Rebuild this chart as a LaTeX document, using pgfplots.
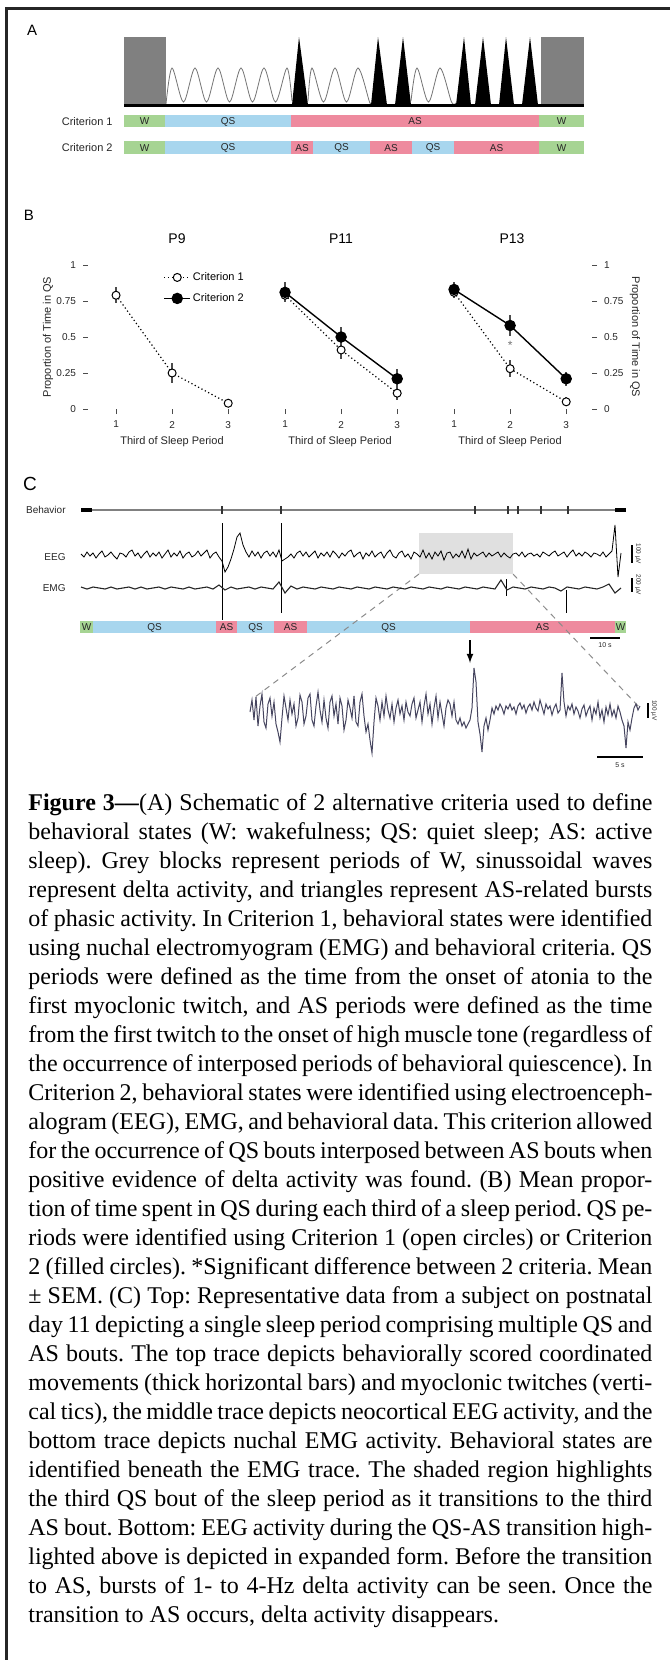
\documentclass[border=0pt]{standalone}
\usepackage{fontspec}
\setmainfont{Liberation Serif}
\setsansfont{Liberation Sans}
\usepackage{pgfplots}
\pgfplotsset{compat=1.18}
\definecolor{cW}{HTML}{A6D493}
\definecolor{cQ}{HTML}{A8D6EE}
\definecolor{cA}{HTML}{EE8A9E}
\definecolor{cG}{HTML}{808080}
\definecolor{cZ}{HTML}{46455F}
\newcommand\fs[1]{\fontsize{#1}{#1}\selectfont}
\tikzset{lab/.style={font=\sffamily\fs{5}, inner sep=0pt, text=black!85}}
\newcommand\seg[6]{%
 \addplot[fill=#5, draw=none] coordinates {(#1,#3) (#2,#3) (#2,#4) (#1,#4)} -- cycle;
 \node[lab] at (axis cs:{(#1+#2)/2},{(#3+#4)/2+0.5}) {#6};}
\newcommand\vl[3]{\addplot[black, line width=0.3pt] coordinates {(#1,#2) (#1,#3)};}
\newcommand\tic[2]{\addplot[black!80, line width=#2] coordinates {(#1,506) (#1,514)};}
\pgfplotsset{
 bax/.style={scale only axis, width=83pt, height=72pt, xmin=0.5, xmax=3.46, ymin=0, ymax=1,
  clip=false, axis x line*=bottom, axis line style={draw=none}, xtick={1,2,3},
  tick align=outside, major tick length=2.5pt, tick style={black!70, line width=0.4pt},
  tick label style={font=\sffamily\fs{5}, text=black!85},
  /pgf/number format/assume math mode=true,
  error bars/error bar style={line width=0.8pt, black!70, solid},
  error bars/error mark=none},
 c1/.style={black, line width=0.6pt, dash pattern=on 0.6pt off 1.3pt, mark=*, mark size=2pt, mark options={solid, fill=white, line width=0.5pt}},
 c2/.style={black, line width=0.7pt, solid, mark=*, mark size=2.5pt, mark options={solid, fill=black}},
 trace/.style={scale only axis, hide axis, clip=false}
}
\begin{document}
\begin{tikzpicture}
\useasboundingbox (0,0) rectangle (335pt,-830pt);
\draw[line width=1.3pt, black!85] (3.1pt,-830pt) -- (3.1pt,-4.1pt) -- (335pt,-4.1pt);

\begin{axis}[name=cv, at={(0pt,0pt)}, anchor=north west, scale only axis, width=335pt, height=830pt,
  xmin=0, xmax=670, ymin=0, ymax=1660, y dir=reverse, hide axis, clip=false]
% ---------- Panel A
\node[font=\sffamily\fs{7.5}, inner sep=0pt] at (axis cs:32,30) {A};
\addplot[fill=cG, draw=none] coordinates {(124,37) (166,37) (166,105) (124,105)} -- cycle;
\addplot[fill=cG, draw=none] coordinates {(541,37) (584,37) (584,105) (541,105)} -- cycle;
\addplot[black!55, line width=0.4pt, smooth] coordinates {(166,104) (172,68) (183.5,102) (195,68) (206.5,102) (218,68) (229.5,102) (241,68) (252.5,102) (264,68) (275.5,102) (287,68) (292,101)};
\addplot[black!55, line width=0.4pt, smooth] coordinates {(308,101) (312,68) (323.5,102) (335,68) (346.5,102) (358,68) (369.5,102) (371,103)};
\addplot[black!55, line width=0.4pt, smooth] coordinates {(411,101) (417,68) (428.5,102) (440,68) (451.5,102) (456,103)};
\addplot[fill=black, draw=none] coordinates {(292,105) (299,37) (308,105)} -- cycle;
\addplot[fill=black, draw=none] coordinates {(371,105) (378,37) (387,105)} -- cycle;
\addplot[fill=black, draw=none] coordinates {(395,105) (403,37) (411,105)} -- cycle;
\addplot[fill=black, draw=none] coordinates {(456,105) (464,37) (471,105)} -- cycle;
\addplot[fill=black, draw=none] coordinates {(475,105) (483,37) (491,105)} -- cycle;
\addplot[fill=black, draw=none] coordinates {(499,105) (506,37) (514,105)} -- cycle;
\addplot[fill=black, draw=none] coordinates {(522,105) (530,37) (538,105)} -- cycle;
\addplot[black, line width=1.5pt] coordinates {(124,105) (584,105)};
\node[lab, font=\sffamily\fs{5.5}, anchor=east] at (axis cs:113,121.5) {Criterion 1};
\node[lab, font=\sffamily\fs{5.5}, anchor=east] at (axis cs:113,148) {Criterion 2};
\seg{124}{165}{115}{127}{cW}{W}
\seg{165}{291}{115}{127}{cQ}{QS}
\seg{291}{539}{115}{127}{cA}{AS}
\seg{539}{584}{115}{127}{cW}{W}
\seg{124}{165}{141}{154}{cW}{W}
\seg{165}{291}{141}{154}{cQ}{QS}
\seg{291}{313}{141}{154}{cA}{AS}
\seg{313}{370}{141}{154}{cQ}{QS}
\seg{370}{412}{141}{154}{cA}{AS}
\seg{412}{454}{141}{154}{cQ}{QS}
\seg{454}{539}{141}{154}{cA}{AS}
\seg{539}{584}{141}{154}{cW}{W}
% ---------- Panel B texts
\node[font=\sffamily\fs{7.5}, inner sep=0pt] at (axis cs:29,215) {B};
\node[font=\sffamily\fs{7}, inner sep=0pt] at (axis cs:177,239) {P9};
\node[font=\sffamily\fs{7}, inner sep=0pt] at (axis cs:341,239) {P11};
\node[font=\sffamily\fs{7}, inner sep=0pt] at (axis cs:512,239) {P13};
\node[lab, font=\sffamily\fs{5.5}] at (axis cs:172,442) {Third of Sleep Period};
\node[lab, font=\sffamily\fs{5.5}] at (axis cs:340,442) {Third of Sleep Period};
\node[lab, font=\sffamily\fs{5.5}] at (axis cs:510,442) {Third of Sleep Period};
\node[lab, font=\sffamily\fs{5.5}, rotate=90] at (axis cs:48,337) {Proportion of Time in QS};
\node[lab, font=\sffamily\fs{5.5}, rotate=-90] at (axis cs:635,337) {Proportion of Time in QS};
% ---------- Panel C
\node[font=\sffamily\fs{9.5}, inner sep=0pt] at (axis cs:30,484) {C};
\node[lab, anchor=east] at (axis cs:66,510) {Behavior};
\node[lab, anchor=east] at (axis cs:66,557) {EEG};
\node[lab, anchor=east] at (axis cs:66,588) {EMG};
\addplot[black!50, line width=0.6pt] coordinates {(81,510) (626,510)};
\addplot[black, line width=2pt] coordinates {(81,510) (92,510)};
\addplot[black, line width=2pt] coordinates {(615,510) (626,510)};
\tic{222}{0.9pt}\tic{281}{0.9pt}\tic{475}{0.9pt}\tic{508}{0.9pt}\tic{518}{0.9pt}\tic{541}{0.6pt}\tic{568}{0.6pt}
\addplot[fill=black!12, draw=none] coordinates {(419,533) (513,533) (513,574) (419,574)} -- cycle;
\vl{222}{523}{620}\vl{281}{523}{613}\vl{566}{590}{613}\vl{506}{579}{596}
\seg{80}{93}{621}{633}{cW}{W}
\seg{93}{216}{621}{633}{cQ}{QS}
\seg{216}{237}{621}{633}{cA}{AS}
\seg{237}{274}{621}{633}{cQ}{QS}
\seg{274}{307}{621}{633}{cA}{AS}
\seg{307}{470}{621}{633}{cQ}{QS}
\seg{470}{615}{621}{633}{cA}{AS}
\seg{615}{626}{621}{633}{cW}{W}
\addplot[black, line width=0.7pt] coordinates {(632,545) (632,563)};
\node[lab, font=\sffamily\fs{3.2}, rotate=-90] at (axis cs:638,554) {100 µV};
\addplot[black, line width=0.7pt] coordinates {(632,578) (632,592)};
\node[lab, font=\sffamily\fs{3.2}, rotate=-90] at (axis cs:638,585) {200 µV};
\addplot[black, line width=0.8pt] coordinates {(590,638) (620,638)};
\node[lab, font=\sffamily\fs{3.5}] at (axis cs:605,645.5) {10 s};
\addplot[black!45, line width=0.5pt, dash pattern=on 3pt off 2.5pt] coordinates {(419,574) (255,697)};
\addplot[black!45, line width=0.5pt, dash pattern=on 3pt off 2.5pt] coordinates {(513,574) (640,708)};
\addplot[black, line width=0.6pt, -latex] coordinates {(470,640) (470,663)};
\addplot[black, line width=0.8pt] coordinates {(597,757) (643,757)};
\node[lab, font=\sffamily\fs{3.5}] at (axis cs:620,765) {5 s};
\addplot[black, line width=0.7pt] coordinates {(648,703) (648,718)};
\node[lab, font=\sffamily\fs{3.2}, rotate=-90] at (axis cs:654,710.5) {100 µV};
\end{axis}

% ---------- EEG main trace (y in px, up positive; x = sample index, 3 px apart)
\begin{axis}[trace, at={(40.5pt,-277.5pt)}, anchor=west, width=270pt, height=30pt, xmin=0, xmax=180, ymin=-30, ymax=30]
\addplot[black, line width=0.4pt] table[row sep=\\, header=false, x expr=\coordindex, y index=0] {
1\\-2\\3\\-1\\2\\-3\\1\\4\\-2\\0\\
3\\-1\\-4\\2\\1\\-2\\3\\5\\-1\\2\\
-3\\1\\4\\-2\\2\\-1\\3\\-3\\1\\5\\
-2\\2\\-1\\4\\-3\\1\\3\\-2\\0\\4\\
-1\\2\\5\\-3\\1\\3\\-2\\-6\\-17\\-12\\
-4\\6\\18\\22\\10\\3\\-2\\4\\-1\\3\\
-3\\2\\4\\-1\\3\\-2\\5\\-6\\-4\\-2\\
1\\-3\\2\\4\\-1\\3\\-2\\1\\4\\-3\\
2\\-1\\3\\-2\\4\\1\\-3\\2\\-1\\3\\
5\\-2\\1\\3\\-4\\2\\-1\\4\\-2\\1\\
3\\-3\\2\\5\\-1\\-3\\2\\4\\-2\\1\\
-4\\3\\1\\-2\\5\\-3\\2\\-4\\3\\-1\\
4\\-5\\2\\3\\-3\\1\\-2\\4\\-3\\6\\
-4\\2\\-1\\1\\3\\-2\\2\\-1\\1\\3\\
-2\\2\\-1\\-3\\1\\2\\-1\\3\\-2\\1\\
2\\-1\\1\\-2\\3\\1\\-1\\2\\4\\-1\\
1\\3\\-2\\2\\5\\-1\\2\\-1\\3\\1\\
-2\\2\\1\\-1\\3\\-2\\1\\4\\30\\-22\\
2\\
};
\end{axis}

% ---------- EMG trace (6 px apart)
\begin{axis}[trace, at={(40.5pt,-294pt)}, anchor=west, width=270pt, height=30pt, xmin=0, xmax=90, ymin=-30, ymax=30]
\addplot[black!85, line width=0.55pt] table[row sep=\\, header=false, x expr=\coordindex, y index=0] {
1\\-1\\1\\0\\-1\\1\\-1\\0\\1\\-1\\
1\\-1\\0\\1\\-1\\1\\0\\-1\\1\\-1\\
0\\1\\-1\\3\\-2\\1\\-1\\0\\1\\-1\\
1\\0\\-1\\6\\-5\\2\\-1\\1\\0\\-1\\
1\\0\\-1\\1\\0\\-1\\1\\0\\-1\\1\\
0\\-1\\1\\0\\-1\\1\\0\\-1\\1\\0\\
-1\\1\\0\\-1\\1\\0\\-1\\1\\0\\-1\\
8\\-2\\1\\0\\-1\\1\\0\\-1\\1\\0\\
-3\\1\\0\\-1\\1\\0\\-1\\1\\4\\-5\\
0\\
};
\end{axis}

% ---------- expanded EEG (2 px apart)
\begin{axis}[trace, at={(125pt,-356pt)}, anchor=west, width=195pt, height=50pt, xmin=0, xmax=195, ymin=-50, ymax=50]
\addplot[cZ, line width=0.5pt] table[row sep=\\, header=false, x expr=\coordindex, y index=0] {
0\\12\\-8\\15\\-14\\6\\18\\-10\\-16\\8\\
14\\-4\\10\\-12\\-20\\-30\\-6\\16\\4\\-8\\
12\\-2\\8\\-14\\-6\\17\\10\\-12\\-4\\14\\
18\\-8\\-14\\6\\20\\2\\-10\\12\\-6\\-16\\
10\\16\\-4\\8\\-12\\14\\6\\-18\\-8\\12\\
4\\-6\\16\\-10\\-14\\10\\18\\-4\\-20\\-12\\
-28\\-41\\-10\\14\\6\\-8\\10\\-4\\16\\2\\
-6\\8\\-10\\4\\12\\-2\\6\\-8\\10\\0\\
-4\\8\\14\\-6\\2\\10\\-10\\6\\18\\-2\\
8\\-12\\4\\16\\-6\\10\\-2\\-14\\4\\12\\
8\\-4\\10\\-8\\-12\\-6\\-14\\-10\\-16\\-12\\
-8\\4\\44\\30\\-10\\-22\\-40\\-14\\-6\\-18\\
-8\\4\\-2\\6\\2\\8\\4\\-2\\6\\3\\
8\\2\\5\\-2\\6\\9\\3\\7\\-1\\5\\
8\\2\\10\\4\\1\\12\\5\\-2\\8\\3\\
6\\-3\\4\\8\\-1\\2\\39\\10\\-4\\6\\
2\\8\\-2\\5\\1\\-6\\3\\7\\-4\\2\\
6\\-8\\4\\-2\\10\\-6\\2\\-10\\5\\-3\\
8\\-4\\2\\-6\\6\\0\\-8\\-14\\-36\\-10\\
-18\\-6\\4\\8\\2\\6\\
};
\end{axis}

% ---------- Panel B
\begin{axis}[bax, at={(44pt,-204.5pt)}, anchor=south west, axis y line*=left,
  ytick={0,0.25,0.5,0.75,1}, yticklabels={0,0.25,0.5,0.75,1},
  legend style={at={(axis cs:1.84,0.965)}, anchor=north west, draw=none, fill=none, inner sep=0pt,
    font=\sffamily\fs{5.5}, row sep=3.5pt, nodes={inner sep=1pt, text height=4pt, text depth=1pt}},
  legend cell align=left,
  legend image code/.code={\draw[mark repeat=2, mark phase=2, #1] plot coordinates {(0pt,0pt) (6.5pt,0pt) (13pt,0pt)};}]
\addplot[c1, error bars/.cd, y dir=both, y explicit] coordinates {(1,0.79) +- (0,0.055) (2,0.25) +- (0,0.07) (3,0.04) +- (0,0.015)};
\addlegendentry{Criterion 1}
\addlegendimage{c2}
\addlegendentry{Criterion 2}
\end{axis}

\begin{axis}[bax, at={(128.5pt,-204.5pt)}, anchor=south west, axis y line=none, ytick=\empty]
\addplot[c1, error bars/.cd, y dir=both, y explicit] coordinates {(1,0.79) +- (0,0.05) (2,0.41) +- (0,0.06) (3,0.11) +- (0,0.05)};
\addplot[c2, error bars/.cd, y dir=both, y explicit] coordinates {(1,0.81) +- (0,0.07) (2,0.50) +- (0,0.07) (3,0.21) +- (0,0.07)};
\end{axis}

\begin{axis}[bax, at={(213pt,-204.5pt)}, anchor=south west, axis y line*=right,
  ytick={0,0.25,0.5,0.75,1}, yticklabels={0,0.25,0.5,0.75,1}]
\addplot[c1, error bars/.cd, y dir=both, y explicit] coordinates {(1,0.81) +- (0,0.04) (2,0.28) +- (0,0.06) (3,0.05) +- (0,0.03)};
\addplot[c2, error bars/.cd, y dir=both, y explicit] coordinates {(1,0.83) +- (0,0.05) (2,0.58) +- (0,0.07) (3,0.21) +- (0,0.05)};
\node[font=\sffamily\fs{6}, text=black!55, inner sep=0pt] at (axis cs:2,0.44) {*};
\end{axis}

% ---------- Caption
\node[anchor=north west, inner sep=0pt] at (14pt,-396.75pt) {\begin{minipage}[t]{312pt}%
\fontsize{12}{14.5}\selectfont\frenchspacing\spaceskip=3pt plus 8pt minus 1.4pt\parindent=0pt
\hbox to 312pt{\textbf{Figure 3—}(A) Schematic of 2 alternative criteria used to define}
\hbox to 312pt{behavioral states (W: wakefulness; QS: quiet sleep; AS: active}
\hbox to 312pt{sleep). Grey blocks represent periods of W, sinussoidal waves}
\hbox to 312pt{represent delta activity, and triangles represent AS-related bursts}
\hbox to 312pt{of phasic activity. In Criterion 1, behavioral states were identified}
\hbox to 312pt{using nuchal electromyogram (EMG) and behavioral criteria. QS}
\hbox to 312pt{periods were defined as the time from the onset of atonia to the}
\hbox to 312pt{first myoclonic twitch, and AS periods were defined as the time}
\hbox to 312pt{from the first twitch to the onset of high muscle tone (regardless of}
\hbox to 312pt{the occurrence of interposed periods of behavioral quiescence). In}
\hbox to 312pt{Criterion 2, behavioral states were identified using electroenceph-}
\hbox to 312pt{alogram (EEG), EMG, and behavioral data. This criterion allowed}
\hbox to 312pt{for the occurrence of QS bouts interposed between AS bouts when}
\hbox to 312pt{positive evidence of delta activity was found. (B) Mean propor-}
\hbox to 312pt{tion of time spent in QS during each third of a sleep period. QS pe-}
\hbox to 312pt{riods were identified using Criterion 1 (open circles) or Criterion}
\hbox to 312pt{2 (filled circles). *Significant difference between 2 criteria. Mean}
\hbox to 312pt{± SEM. (C) Top: Representative data from a subject on postnatal}
\hbox to 312pt{day 11 depicting a single sleep period comprising multiple QS and}
\hbox to 312pt{AS bouts. The top trace depicts behaviorally scored coordinated}
\hbox to 312pt{movements (thick horizontal bars) and myoclonic twitches (verti-}
\hbox to 312pt{cal tics), the middle trace depicts neocortical EEG activity, and the}
\hbox to 312pt{bottom trace depicts nuchal EMG activity. Behavioral states are}
\hbox to 312pt{identified beneath the EMG trace. The shaded region highlights}
\hbox to 312pt{the third QS bout of the sleep period as it transitions to the third}
\hbox to 312pt{AS bout. Bottom: EEG activity during the QS-AS transition high-}
\hbox to 312pt{lighted above is depicted in expanded form. Before the transition}
\hbox to 312pt{to AS, bursts of 1- to 4-Hz delta activity can be seen. Once the}
\hbox{transition to AS occurs, delta activity disappears.}
\end{minipage}};
\end{tikzpicture}
\end{document}
